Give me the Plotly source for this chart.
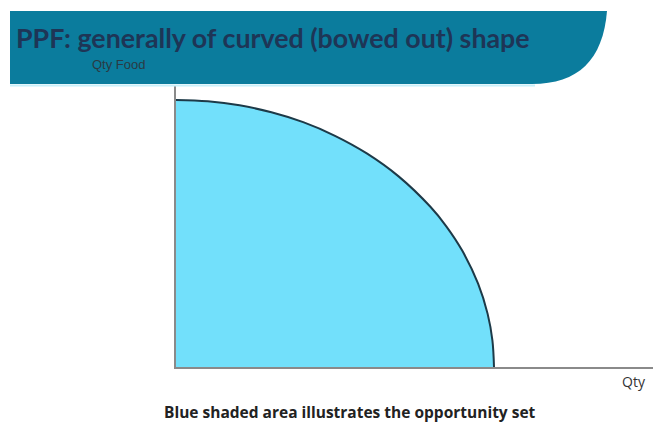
import plotly.graph_objects as go

W, H = 653, 425

# PPF data (Qty on x, Qty Food on y)
qty = [0, 1, 2, 3, 4, 5, 6, 7, 8, 8.5, 9, 9.5, 9.8, 9.95, 10]
qty_food = [10, 9.95, 9.8, 9.54, 9.17, 8.66, 8.0, 7.14, 6.0, 5.27, 4.36, 3.12, 1.99, 1.0, 0]

title_text = "PPF: generally of curved (bowed out) shape"
y_label = "Qty Food"
x_label = "Qty"
caption = "Blue shaded area illustrates the opportunity set"

def px(x):
    return x / W

def py(y):
    return 1 - y / H

fig = go.Figure()
fig.add_trace(go.Scatter(
    x=qty, y=qty_food, mode="lines", line=dict(color="#1d3a48", width=2, shape="spline"),
    fill="tozeroy", fillcolor="#72e0fb", hoverinfo="skip", showlegend=False,
))

# banner path
path = (f"M {px(10)},{py(11)} L {px(607)},{py(11)} "
        f"C {px(603)},{py(60)} {px(578)},{py(84)} {px(532)},{py(84)} "
        f"L {px(10)},{py(84)} Z")

fig.update_layout(
    width=W, height=H, margin=dict(l=0, r=0, t=0, b=0),
    paper_bgcolor="white", plot_bgcolor="white",
    xaxis=dict(domain=[px(176), 1], range=[0, 15], showgrid=False, zeroline=False,
               showticklabels=False, ticks="", showline=True, linecolor="#8a8a8a", linewidth=1.5),
    yaxis=dict(domain=[py(367), py(86)], range=[0, 281 / 26.7], showgrid=False, zeroline=False,
               showticklabels=False, ticks="", showline=True, linecolor="#8a8a8a", linewidth=1.5),
    shapes=[
        dict(type="path", path=path, xref="paper", yref="paper", fillcolor="#0b7c9d",
             line=dict(width=0), layer="below"),
        dict(type="line", xref="paper", yref="paper", x0=px(10), x1=px(535), y0=py(85.5), y1=py(85.5),
             line=dict(color="#c8f0fa", width=2)),
    ],
    annotations=[
        dict(text=f"<b>{title_text}</b>", x=px(14), y=py(38), xref="paper", yref="paper",
             xanchor="left", yanchor="middle", showarrow=False,
             font=dict(family="Lato", size=26.8, color="#1e3556")),
        dict(text=y_label, x=px(90), y=py(64), xref="paper", yref="paper",
             xanchor="left", yanchor="middle", showarrow=False,
             font=dict(family="Liberation Sans", size=13, color="#2a3a44")),
        dict(text=x_label, x=px(620), y=py(381), xref="paper", yref="paper",
             xanchor="left", yanchor="middle", showarrow=False,
             font=dict(family="Open Sans", size=14, color="#333333")),
        dict(text=f"<b>{caption}</b>", x=px(350), y=py(412), xref="paper", yref="paper",
             xanchor="center", yanchor="middle", showarrow=False,
             font=dict(family="Open Sans", size=15.5, color="#222222")),
    ],
)

fig.write_html("out.html")
